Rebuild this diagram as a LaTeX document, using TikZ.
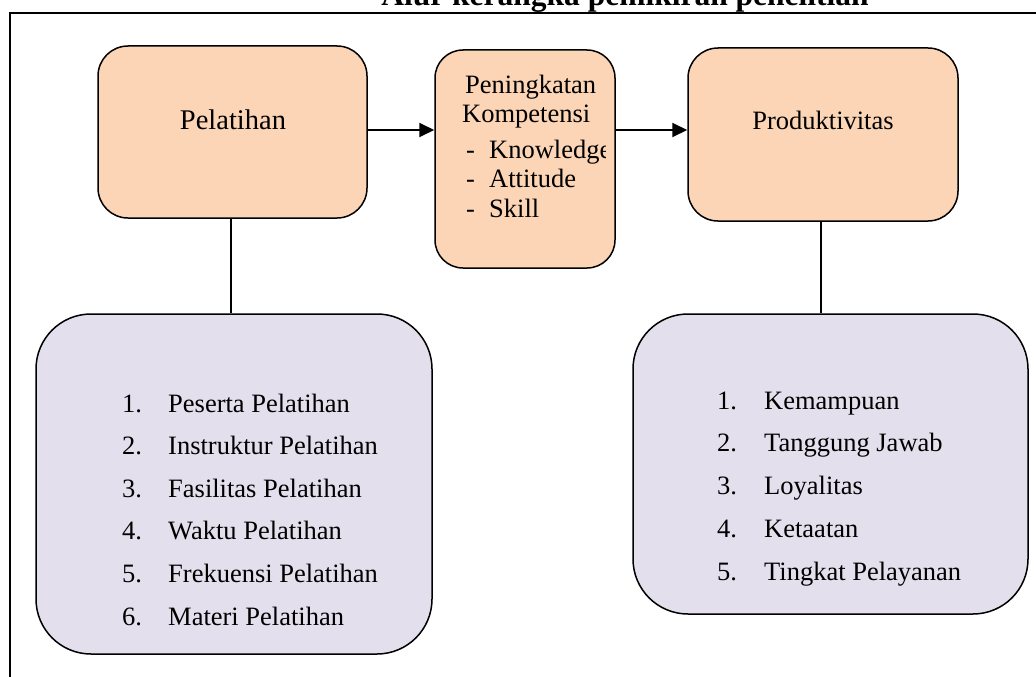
\documentclass[tikz,border=0pt]{standalone}
\usepackage{fontspec}
\setmainfont{Liberation Serif}
\usetikzlibrary{arrows.meta}
\definecolor{peach}{HTML}{FBD5B5}
\definecolor{lav}{HTML}{E4DFEC}
\begin{document}
\begin{tikzpicture}[x=1pt,y=-1pt,
  box/.style={draw=black,line width=1.5pt,inner sep=0pt},
  peachbox/.style={box,fill=peach,rounded corners=30pt},
  lavbox/.style={box,fill=lav,rounded corners=55pt},
  arr/.style={line width=2pt,-{Triangle[length=15pt,width=14pt]}},
  conn/.style={line width=1.6pt},
  txt/.style={inner sep=0pt,anchor=base west,font=\fontsize{26.5}{30}\selectfont},
  ctxt/.style={inner sep=0pt,anchor=base,font=\fontsize{26.5}{30}\selectfont}]
\useasboundingbox (0,0) rectangle (1036,677);
% frame
\draw[line width=1.5pt] (10,677) -- (10,13) -- (1036,13);
% title (cut at top, as in the reference)
\node[anchor=base,inner sep=0pt,font=\bfseries\fontsize{31.5}{34}\selectfont] (title) at (625,6) {Alur kerangka pemikiran penelitian};
% boxes
\node[peachbox,minimum width=269pt,minimum height=172pt] (pel) at (232.5,132) {};
\node[peachbox,minimum width=180pt,minimum height=218pt,rounded corners=28pt] (mid) at (525,159) {};
\node[peachbox,minimum width=270pt,minimum height=173pt] (prod) at (823,134.5) {};
\node[lavbox,minimum width=396pt,minimum height=340pt] (lb) at (234,484) {};
\node[lavbox,minimum width=395pt,minimum height=300pt] (rb) at (830.5,464) {};
% texts in peach boxes
\node[ctxt,font=\fontsize{28.5}{30}\selectfont] (peltxt) at (233,129) {Pelatihan};
\node[ctxt] (prodtxt) at (823,129) {Produktivitas};
\node[txt] (m1) at (465,93) {Peningkatan};
\node[txt] (m2) at (462,122) {Kompetensi};
\node[txt] (d1) at (466,158) {-};
\begin{scope}
\clip (435,50) rectangle (605,268);
\node[txt] (m3) at (489,158) {Knowledge};
\end{scope}
\node[txt] (d2) at (466,187) {-};
\node[txt] (m4) at (489,187) {Attitude};
\node[txt] (d3) at (466,217) {-};
\node[txt] (m5) at (489,217) {Skill};
% left list
\foreach \i/\t in {1/Peserta Pelatihan,2/Instruktur Pelatihan,3/Fasilitas Pelatihan,4/Waktu Pelatihan,5/Frekuensi Pelatihan,6/Materi Pelatihan}{
  \node[txt] (ln\i) at (122,{412+42.6*(\i-1)}) {\i.};
  \node[txt] (lt\i) at (168,{412+42.6*(\i-1)}) {\t};
}
% right list
\foreach \i/\t in {1/Kemampuan,2/Tanggung Jawab,3/Loyalitas,4/Ketaatan,5/Tingkat Pelayanan}{
  \node[txt] (rn\i) at (717,{409+42.75*(\i-1)}) {\i.};
  \node[txt] (rt\i) at (764,{409+42.75*(\i-1)}) {\t};
}
% connectors
\draw[arr] ([yshift=2pt]pel.east) -- ([yshift=2pt]mid.west |- pel.east);
\draw[arr] ([yshift=4.5pt]mid.east |- prod.west) -- ([yshift=4.5pt]prod.west);
\draw[conn] ([xshift=-1.5pt]pel.south) -- ([xshift=-1.5pt]pel.south |- lb.north);
\draw[conn] ([xshift=-2pt]prod.south) -- ([xshift=-2pt]prod.south |- rb.north);
\end{tikzpicture}
\end{document}
